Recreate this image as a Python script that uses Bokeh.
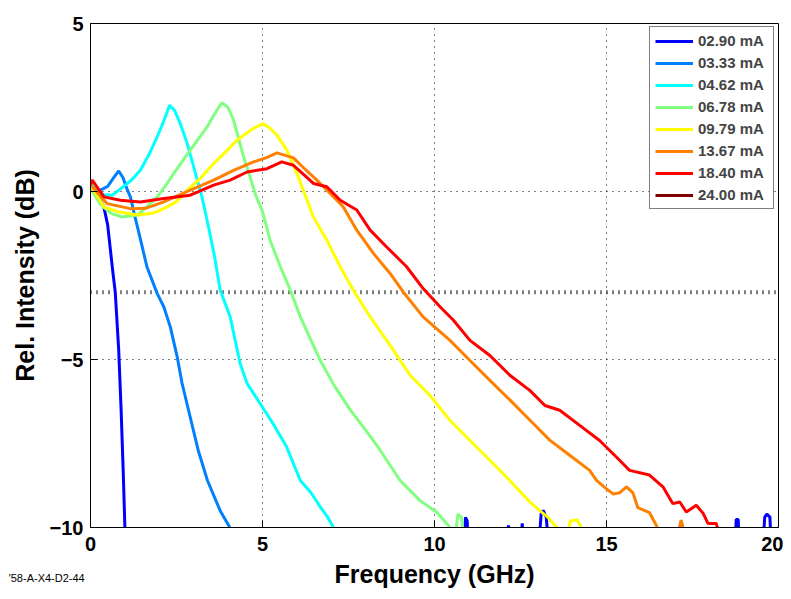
from bokeh.plotting import figure
from bokeh.models import FixedTicker, Span, Label, Range1d
from bokeh.embed import file_html
from bokeh.resources import INLINE

# ---------------- data ----------------
labels = ["02.90 mA", "03.33 mA", "04.62 mA", "06.78 mA",
          "09.79 mA", "13.67 mA", "18.40 mA", "24.00 mA"]
colors = ["#0000ff", "#0080ff", "#00ffff", "#80ff80",
          "#ffff00", "#ff8000", "#ff0000", "#800000"]

x_290 = [0, 0.1, 0.2, 0.39, 0.5, 0.58, 0.65, 0.72, 0.82, 0.89, 0.95, 1.0, 1.02,
         10.85, 10.9, 10.95, 11.0, 12.05, 12.15, 12.3, 12.48, 12.55, 12.63,
         13.0, 13.1, 13.16, 13.25, 13.35, 18.72, 18.77, 18.83, 18.87,
         19.52, 19.6, 19.66, 19.75, 19.81, 20.0]
y_290 = [0.2, 0.05, -0.1, -0.47, -1.0, -1.75, -2.4, -3.0, -4.72, -6.5, -8.3, -10.0, -11.0,
         -11.0, -9.7, -9.8, -11.0, -11.0, -9.94, -11.0, -11.0, -9.88, -11.0,
         -11.0, -9.6, -9.49, -9.7, -11.0, -11.0, -9.76, -9.76, -11.0,
         -11.0, -9.69, -9.6, -9.69, -11.0, -11.0]

x_333 = [0, 0.15, 0.3, 0.5, 0.7, 0.82, 0.95, 1.05, 1.16, 1.28, 1.40, 1.64, 1.94,
         2.13, 2.32, 2.52, 2.66, 2.85, 3.13, 3.4, 3.77, 4.05]
y_333 = [0.2, -0.05, 0.05, 0.15, 0.45, 0.61, 0.4, 0.1, -0.16, -0.7, -1.2, -2.24, -3.04,
         -3.43, -4.03, -4.92, -5.7, -6.51, -7.7, -8.6, -9.5, -10.0]

x_462 = [0, 0.2, 0.4, 0.63, 0.9, 1.2, 1.45, 1.7, 1.94, 2.15, 2.30, 2.45, 2.61, 2.81,
         3.0, 3.24, 3.43, 3.6, 3.77, 4.06, 4.35, 4.55, 4.93, 5.3, 5.7, 6.1, 6.4,
         6.68, 6.9, 7.06]
y_462 = [0.24, 0.0, -0.1, -0.11, 0.1, 0.35, 0.63, 1.1, 1.63, 2.15, 2.57, 2.4, 2.02, 1.43,
         0.73, -0.16, -1.05, -1.9, -2.94, -3.73, -5.12, -5.71, -6.31, -6.9, -7.6, -8.6, -8.95,
         -9.39, -9.7, -10.0]

x_678 = [0, 0.3, 0.6, 0.92, 1.36, 1.7, 1.94, 2.2, 2.42, 2.9, 3.39, 3.6, 3.82, 4.0,
         4.16, 4.3, 4.45, 4.6, 4.8, 5.0, 5.22, 5.52, 5.81, 6.1, 6.68, 7.1, 7.55, 8.0,
         8.42, 9.0, 9.58, 10.06, 10.35, 10.5, 10.6, 10.68, 10.78, 10.86]
y_678 = [0.1, -0.4, -0.65, -0.76, -0.7, -0.4, -0.16, 0.2, 0.54, 1.23, 1.92, 2.3, 2.64, 2.5,
         2.12, 1.6, 1.03, 0.55, -0.1, -0.6, -1.45, -2.24, -2.94, -3.73, -5.03, -5.8, -6.5, -7.1,
         -7.7, -8.6, -9.2, -9.54, -9.88, -10.05, -10.3, -9.6, -9.7, -10.3]

x_979 = [0, 0.39, 0.8, 1.36, 1.8, 2.13, 2.5, 2.81, 3.2, 3.58, 3.9, 4.26, 4.74, 5.01,
         5.2, 5.42, 5.71, 6.0, 6.2, 6.48, 6.87, 7.26, 7.64, 8.13, 8.71, 9.29, 9.87,
         10.45, 11.03, 11.61, 12.19, 12.77, 13.06, 13.3, 13.55, 13.7, 13.85, 13.95,
         14.15, 14.27, 14.4]
y_979 = [0.2, -0.46, -0.6, -0.7, -0.65, -0.51, -0.3, 0.04, 0.4, 0.83, 1.15, 1.53, 1.88, 2.02,
         1.9, 1.68, 1.23, 0.54, 0.0, -0.76, -1.45, -2.24, -2.94, -3.73, -4.58, -5.47, -6.07,
         -6.81, -7.41, -8.0, -8.6, -9.24, -9.5, -9.7, -10.0, -10.3, -10.3, -9.8,
         -9.78, -10.0, -10.4]

x_1367 = [0, 0.48, 1.16, 1.6, 2.13, 2.9, 3.58, 4.16, 4.74, 5.1, 5.42, 5.9, 6.2, 6.58,
          6.97, 7.35, 7.74, 8.23, 8.71, 9.09, 9.67, 10.45, 11.03, 11.61, 12.19, 12.77,
          13.35, 13.93, 14.51, 14.71, 15.0, 15.19, 15.38, 15.58, 15.77, 15.91, 16.25,
          16.45, 16.6, 17.05, 17.17, 17.3, 17.5]
y_1367 = [0.2, -0.36, -0.51, -0.5, -0.31, 0.04, 0.34, 0.63, 0.88, 1.0, 1.15, 1.0, 0.7, 0.34,
          -0.06, -0.46, -1.15, -1.85, -2.44, -2.99, -3.73, -4.43, -5.03, -5.62, -6.2, -6.8,
          -7.4, -7.85, -8.3, -8.6, -8.85, -9.0, -8.97, -8.79, -8.97, -9.41, -9.56,
          -9.94, -10.3, -10.3, -9.78, -10.3, -10.5]

x_1840 = [0, 0.05, 0.39, 0.87, 1.45, 2.13, 2.9, 3.58, 4.06, 4.55, 5.13, 5.56, 5.9, 6.2,
          6.48, 6.87, 7.26, 7.74, 8.13, 8.61, 9.19, 9.67, 10.16, 10.55, 11.03, 11.61,
          12.19, 12.77, 13.21, 13.64, 14.22, 14.8, 15.38, 15.67, 16.25, 16.64, 16.93,
          17.13, 17.32, 17.61, 17.81, 17.95, 18.19, 18.3]
y_1840 = [0.2, 0.34, -0.16, -0.26, -0.31, -0.21, -0.11, 0.19, 0.34, 0.58, 0.68, 0.88, 0.78, 0.5,
          0.24, 0.14, -0.26, -0.55, -1.15, -1.65, -2.24, -2.89, -3.43, -3.83, -4.43, -4.88,
          -5.47, -5.92, -6.37, -6.51, -6.96, -7.41, -8.0, -8.3, -8.44, -8.79, -9.29,
          -9.24, -9.54, -9.34, -9.58, -9.88, -9.88, -10.3]

# 24.00 mA: listed in the legend, no visible trace in the chart
x_2400 = [0.0, 20.0]
y_2400 = [float("nan"), float("nan")]

xs = [x_290, x_333, x_462, x_678, x_979, x_1367, x_1840, x_2400]
ys = [y_290, y_333, y_462, y_678, y_979, y_1367, y_1840, y_2400]

x_ticks = [0, 5, 10, 15, 20]
y_ticks = [-10, -5, 0, 5]
ref_level = -3
footnote = "'58-A-X4-D2-44"

FONT = "Liberation Sans"

p = figure(width=783, height=591, output_backend="svg", toolbar_location=None,
           x_range=Range1d(0, 20), y_range=Range1d(-10, 5),
           min_border_left=90, min_border_right=5, min_border_top=23, min_border_bottom=64,
           background_fill_color="white", border_fill_color="white")

p.outline_line_color = "black"
p.outline_line_width = 1

for xv, yv, c, lab in zip(xs, ys, colors, labels):
    p.line(xv, yv, line_color=c, line_width=3, legend_label=lab)

# grid
p.xgrid.ticker = FixedTicker(ticks=x_ticks)
p.ygrid.ticker = FixedTicker(ticks=y_ticks)
for g in (p.xgrid, p.ygrid):
    g.grid_line_color = "black"
    g.grid_line_dash = "1 5"
    g.grid_line_width = 1
    g.level = "underlay"

p.add_layout(Span(location=ref_level, dimension="width", line_color="black",
                  line_width=4, line_dash="1 5", level="underlay"))

# axes
p.xaxis.ticker = FixedTicker(ticks=x_ticks)
p.yaxis.ticker = FixedTicker(ticks=y_ticks)
p.xaxis.axis_label = "Frequency (GHz)"
p.yaxis.axis_label = "Rel. Intensity (dB)"
for ax in (p.xaxis[0], p.yaxis[0]):
    ax.axis_line_color = "black"
    ax.major_tick_line_color = "black"
    ax.major_tick_in = 7
    ax.major_tick_out = 0
    ax.minor_tick_line_color = None
    ax.major_label_text_font = FONT
    ax.major_label_text_font_style = "bold"
    ax.major_label_text_font_size = "20px"
    ax.major_label_text_color = "black"
    ax.axis_label_text_font = FONT
    ax.axis_label_text_font_style = "bold"
    ax.axis_label_text_font_size = "25px"
    ax.axis_label_text_color = "black"
p.xaxis.major_label_standoff = 9
p.xaxis.axis_label_standoff = 6
p.yaxis.major_label_standoff = 7
p.yaxis.axis_label_standoff = 8

# legend
lg = p.legend[0]
lg.location = (559, 318)
lg.border_line_color = "black"
lg.border_line_width = 1
lg.background_fill_color = "white"
lg.background_fill_alpha = 1
lg.label_text_font = FONT
lg.label_text_font_style = "bold"
lg.label_text_font_size = "15px"
lg.glyph_width = 38
lg.glyph_height = 16
lg.label_height = 16
lg.label_width = 70
lg.label_standoff = 5
lg.spacing = 5
lg.padding = 5
lg.margin = 0

# footnote lives in the (unused) top panel so it is not clipped to the frame
p.add_layout(Label(x=-2.38, y=-11.5, text=footnote, text_font=FONT,
                   text_font_size="11px", text_baseline="middle", text_color="black"),
             "above")

open("out.html", "w").write(file_html(p, INLINE))
